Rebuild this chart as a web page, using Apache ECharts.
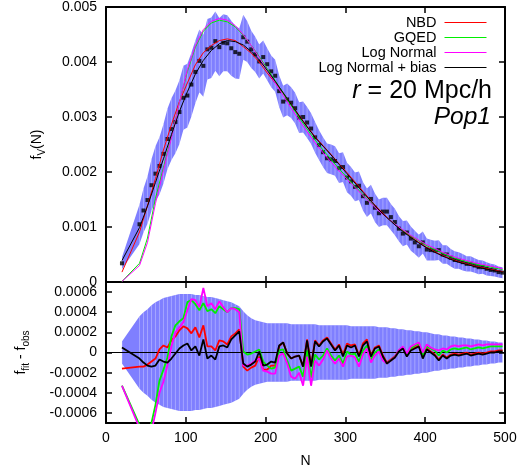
<!DOCTYPE html>
<html>
<head>
<meta charset="utf-8">
<script src="https://cdn.jsdelivr.net/npm/echarts@6/dist/echarts.min.js"></script>
<style>
  html, body { margin: 0; padding: 0; background: #fff; }
  #chart { width: 532px; height: 471px; }
</style>
</head>
<body>
<div id="chart"></div>
<script>
// measured points (N) and observed f_V(N)
var nObs = [20, 42, 47, 52, 57, 62, 67, 72, 77, 82, 87, 92, 97, 102, 107, 112, 117, 122, 127, 132, 137, 142, 147, 152, 157, 162, 167, 172, 177, 182, 187, 192, 197, 202, 207, 212, 217, 222, 227, 232, 237, 242, 247, 252, 257, 262, 267, 272, 277, 282, 287, 292, 297, 302, 307, 312, 317, 322, 327, 332, 337, 342, 347, 352, 357, 362, 367, 372, 377, 382, 387, 392, 397, 402, 407, 412, 417, 422, 427, 432, 437, 442, 447, 452, 457, 462, 467, 472, 477, 482, 487, 492, 497];
var fObs = [0.00034, 0.00105, 0.00130, 0.00149, 0.00176, 0.00197, 0.00211, 0.00233, 0.00260, 0.00278, 0.00291, 0.00309, 0.00335, 0.00339, 0.00359, 0.00382, 0.00402, 0.00393, 0.00423, 0.00426, 0.00438, 0.00427, 0.00435, 0.00434, 0.00425, 0.00418, 0.00415, 0.00445, 0.00437, 0.00423, 0.00414, 0.00401, 0.00409, 0.00396, 0.00383, 0.00375, 0.00347, 0.00328, 0.00332, 0.00326, 0.00316, 0.00299, 0.00300, 0.00290, 0.00279, 0.00263, 0.00249, 0.00236, 0.00225, 0.00223, 0.00220, 0.00207, 0.00209, 0.00190, 0.00183, 0.00173, 0.00175, 0.00156, 0.00144, 0.00151, 0.00135, 0.00125, 0.00128, 0.00128, 0.00118, 0.00109, 0.00097, 0.00088, 0.00090, 0.00079, 0.00072, 0.00065, 0.00072, 0.00059, 0.00058, 0.00057, 0.00058, 0.00050, 0.00050, 0.00044, 0.00040, 0.00039, 0.00036, 0.00033, 0.00033, 0.00030, 0.00027, 0.00027, 0.00024, 0.00022, 0.00021, 0.00018, 0.00017];
// error (half width of the blue band)
var sigma = [0.00011, 0.00036, 0.00040, 0.00043, 0.00047, 0.00050, 0.00052, 0.00054, 0.00055, 0.00056, 0.00057, 0.00058, 0.00058, 0.00058, 0.00058, 0.00057, 0.00057, 0.00056, 0.00055, 0.00055, 0.00054, 0.00053, 0.00052, 0.00051, 0.00050, 0.00048, 0.00046, 0.00041, 0.00037, 0.00034, 0.00032, 0.00031, 0.00030, 0.00029, 0.00029, 0.00029, 0.00029, 0.00029, 0.00029, 0.00028, 0.00028, 0.00028, 0.00028, 0.00028, 0.00028, 0.00028, 0.00027, 0.00027, 0.00027, 0.00027, 0.00027, 0.00027, 0.00027, 0.00027, 0.00026, 0.00026, 0.00026, 0.00026, 0.00026, 0.00026, 0.00026, 0.00025, 0.00025, 0.00025, 0.00024, 0.00024, 0.00023, 0.00023, 0.00022, 0.00022, 0.00021, 0.00021, 0.00020, 0.00020, 0.00019, 0.00018, 0.00018, 0.00017, 0.00017, 0.00016, 0.00016, 0.00015, 0.00015, 0.00014, 0.00014, 0.00013, 0.00013, 0.00012, 0.00012, 0.00011, 0.00011, 0.00010, 0.00010];

// residuals f_fit - f_obs
var resNBD = [-0.00016, -0.00014, -0.00014, -0.00012, -0.00009, -0.00006, 0.00003, 0.00007, 0.00005, 0.00012, 0.00016, 0.00022, 0.00026, 0.00024, 0.00019, 0.00025, 0.00015, 0.00027, 0.00006, 0.00006, 0.00002, 0.00012, 0.00011, 0.00008, 0.00016, 0.00019, 0.00023, -0.00014, -0.00018, -0.00015, -0.00013, -0.00004, -0.00017, -0.00017, -0.00013, -0.00013, 0.00006, 0.00010, -0.00001, -0.00006, -0.00004, -0.00003, -0.00014, 0.00013, -0.00013, 0.00012, 0.00007, 0.00012, 0.00015, 0.00009, 0.00003, 0.00008, -0.00002, 0.00009, 0.00007, 0.00008, -0.00003, 0.00009, 0.00013, -0.00003, 0.00005, 0.00007, -0.00003, -0.00010, -0.00007, -0.00004, 0.00002, 0.00005, -0.00003, 0.00003, 0.00005, 0.00007, -0.00005, 0.00004, 0.00001, -0.00002, -0.00007, -0.00002, -0.00005, -0.00002, -0.00001, -0.00002, -0.00001, 0.00000, -0.00002, -0.00001, 0.00000, -0.00001, 0.00000, 0.00001, 0.00001, 0.00002, 0.00002];
var resGQED = [-0.00033, -0.00072, -0.00078, -0.00078, -0.00070, -0.00052, -0.00028, -0.00017, -0.00005, 0.00016, 0.00027, 0.00031, 0.00034, 0.00050, 0.00052, 0.00048, 0.00042, 0.00049, 0.00041, 0.00043, 0.00039, 0.00046, 0.00043, 0.00040, 0.00044, 0.00044, 0.00043, 0.00001, -0.00002, -0.00001, 0.00001, 0.00003, -0.00009, -0.00013, -0.00016, -0.00015, 0.00002, 0.00003, -0.00008, -0.00018, -0.00016, -0.00014, -0.00024, 0.00002, -0.00025, -0.00002, -0.00007, -0.00003, 0.00004, -0.00003, -0.00008, -0.00003, -0.00011, 0.00001, -0.00002, -0.00001, -0.00009, 0.00002, 0.00007, -0.00007, 0.00000, 0.00003, -0.00007, -0.00011, -0.00008, -0.00005, 0.00001, 0.00005, -0.00003, 0.00004, 0.00007, 0.00009, -0.00003, 0.00006, 0.00004, 0.00002, -0.00003, 0.00002, 0.00000, 0.00003, 0.00004, 0.00003, 0.00004, 0.00005, 0.00003, 0.00004, 0.00005, 0.00004, 0.00005, 0.00006, 0.00006, 0.00006, 0.00006];
var resLN = [-0.00033, -0.00075, -0.00082, -0.00083, -0.00078, -0.00060, -0.00040, -0.00029, -0.00013, 0.00006, 0.00020, 0.00025, 0.00030, 0.00042, 0.00053, 0.00052, 0.00045, 0.00064, 0.00046, 0.00049, 0.00043, 0.00051, 0.00045, 0.00040, 0.00044, 0.00043, 0.00040, -0.00013, -0.00013, -0.00011, -0.00008, -0.00006, -0.00018, -0.00019, -0.00021, -0.00021, -0.00003, -0.00001, -0.00011, -0.00024, -0.00026, -0.00020, -0.00033, -0.00004, -0.00033, -0.00008, -0.00013, -0.00007, 0.00002, -0.00006, -0.00011, -0.00006, -0.00014, -0.00004, -0.00003, -0.00005, -0.00014, -0.00002, 0.00004, -0.00010, -0.00003, 0.00001, -0.00008, -0.00011, -0.00008, -0.00005, 0.00002, 0.00006, -0.00001, 0.00006, 0.00008, 0.00010, 0.00000, 0.00008, 0.00005, 0.00003, 0.00002, 0.00004, 0.00003, 0.00006, 0.00007, 0.00006, 0.00007, 0.00007, 0.00006, 0.00007, 0.00008, 0.00007, 0.00008, 0.00008, 0.00008, 0.00008, 0.00008];
var resLNB = [0.00005, -0.00006, -0.00010, -0.00013, -0.00014, -0.00013, -0.00007, -0.00009, -0.00010, -0.00006, -0.00001, 0.00004, 0.00007, 0.00009, 0.00002, 0.00006, -0.00003, 0.00013, -0.00006, -0.00003, -0.00007, 0.00006, 0.00007, 0.00005, 0.00013, 0.00017, 0.00021, -0.00011, -0.00014, -0.00012, -0.00009, 0.00001, -0.00013, -0.00012, -0.00009, -0.00010, 0.00007, 0.00010, -0.00001, -0.00006, -0.00004, -0.00003, -0.00014, 0.00012, -0.00014, 0.00011, 0.00006, 0.00011, 0.00014, 0.00008, 0.00002, 0.00007, -0.00004, 0.00007, 0.00005, 0.00007, -0.00004, 0.00007, 0.00011, -0.00004, 0.00004, 0.00006, -0.00004, -0.00011, -0.00008, -0.00005, 0.00001, 0.00004, -0.00004, 0.00002, 0.00004, 0.00006, -0.00006, 0.00003, 0.00000, -0.00003, -0.00008, -0.00003, -0.00006, -0.00003, -0.00002, -0.00003, -0.00002, -0.00001, -0.00003, -0.00002, -0.00001, -0.00002, -0.00001, 0.00000, 0.00000, 0.00001, 0.00001];

// fitted models, top panel
var nFit = [20, 42, 52, 62, 72, 82, 92, 102, 112, 122, 132, 142, 152, 162, 172, 182, 192, 202, 212, 222, 232, 242, 252, 262, 272, 282, 292, 302, 312, 322, 332, 342, 352, 362, 372, 382, 392, 402, 412, 422, 432, 442, 452, 462, 472, 482, 492, 497];
var fitNBD = [0.00018, 0.00091, 0.00139, 0.00188, 0.00240, 0.00286, 0.00328, 0.00362, 0.00395, 0.00417, 0.00430, 0.00439, 0.00442, 0.00439, 0.00428, 0.00416, 0.00400, 0.00380, 0.00362, 0.00344, 0.00323, 0.00303, 0.00283, 0.00264, 0.00248, 0.00232, 0.00215, 0.00199, 0.00182, 0.00165, 0.00148, 0.00132, 0.00118, 0.00105, 0.00093, 0.00082, 0.00072, 0.00063, 0.00055, 0.00048, 0.00042, 0.00037, 0.00033, 0.00029, 0.00026, 0.00023, 0.00020, 0.00019];
var fitGQED = [0.00001, 0.00034, 0.00080, 0.00152, 0.00208, 0.00264, 0.00326, 0.00383, 0.00427, 0.00456, 0.00471, 0.00476, 0.00473, 0.00464, 0.00449, 0.00430, 0.00410, 0.00388, 0.00366, 0.00343, 0.00321, 0.00299, 0.00278, 0.00258, 0.00240, 0.00223, 0.00206, 0.00190, 0.00174, 0.00159, 0.00144, 0.00130, 0.00117, 0.00105, 0.00094, 0.00084, 0.00075, 0.00066, 0.00059, 0.00052, 0.00046, 0.00041, 0.00037, 0.00033, 0.00030, 0.00027, 0.00024, 0.00023];
var fitLN = [0.00001, 0.00030, 0.00072, 0.00143, 0.00203, 0.00262, 0.00326, 0.00386, 0.00430, 0.00459, 0.00474, 0.00479, 0.00476, 0.00466, 0.00450, 0.00430, 0.00408, 0.00385, 0.00362, 0.00339, 0.00316, 0.00294, 0.00273, 0.00253, 0.00235, 0.00218, 0.00202, 0.00187, 0.00172, 0.00157, 0.00143, 0.00129, 0.00117, 0.00105, 0.00095, 0.00085, 0.00076, 0.00068, 0.00061, 0.00054, 0.00048, 0.00043, 0.00039, 0.00035, 0.00032, 0.00029, 0.00026, 0.00024];
var fitLNB = [0.00039, 0.00099, 0.00138, 0.00181, 0.00224, 0.00268, 0.00310, 0.00346, 0.00378, 0.00403, 0.00421, 0.00433, 0.00439, 0.00437, 0.00431, 0.00419, 0.00404, 0.00385, 0.00365, 0.00344, 0.00323, 0.00302, 0.00282, 0.00263, 0.00247, 0.00231, 0.00214, 0.00197, 0.00180, 0.00163, 0.00147, 0.00131, 0.00117, 0.00104, 0.00092, 0.00081, 0.00071, 0.00062, 0.00054, 0.00047, 0.00041, 0.00036, 0.00032, 0.00028, 0.00025, 0.00022, 0.00019, 0.00018];

var modelNames = ['NBD', 'GQED', 'Log Normal', 'Log Normal + bias'];
var modelColors = ['#ff0000', '#00ee00', '#ff00ff', '#000000'];

var font = "'Liberation Sans', Arial, Helvetica, sans-serif";
var bandColor = '#7f7fff';

function pairs(xs, ys) {
  return xs.map(function (x, i) { return [x, ys[i]]; });
}

// blue band: one polygon plus a faint light stripe at every point
function bandSeries(gridIdx, center) {
  return {
    type: 'custom',
    xAxisIndex: gridIdx * 2,
    yAxisIndex: gridIdx * 2,
    z: 1,
    silent: true,
    clip: true,
    data: nObs.map(function (n, i) { return [n, center[i] - sigma[i], center[i] + sigma[i]]; }),
    encode: { x: 0, y: [1, 2] },
    renderItem: function (params, api) {
      var i = params.dataIndex;
      var lo = api.coord([api.value(0), api.value(1)]);
      var hi = api.coord([api.value(0), api.value(2)]);
      var stripe = {
        type: 'line', z2: 2,
        shape: { x1: lo[0], y1: lo[1], x2: hi[0], y2: hi[1] },
        style: { stroke: 'rgba(255,255,255,0.3)', lineWidth: 1 }
      };
      if (i !== 0) return stripe;
      var pts = [];
      for (var a = 0; a < nObs.length; a++) pts.push(api.coord([nObs[a], center[a] + sigma[a]]));
      for (var b = nObs.length - 1; b >= 0; b--) pts.push(api.coord([nObs[b], center[b] - sigma[b]]));
      return {
        type: 'group',
        children: [
          { type: 'polygon', z2: 1, shape: { points: pts }, style: { fill: bandColor } },
          stripe
        ]
      };
    }
  };
}

var tick = { show: true, inside: true, length: 6, lineStyle: { color: '#000', width: 1.5 } };
var frame = { show: true, onZero: false, lineStyle: { color: '#000', width: 2 } };
var lbl = { color: '#000', fontSize: 14, fontFamily: font };
var nameRich = {
  a: { fontSize: 14, fontFamily: font, color: '#000', lineHeight: 20 },
  b: { fontSize: 10, fontFamily: font, color: '#000', lineHeight: 12, verticalAlign: 'bottom' }
};

function xAx(grid, pos, extra) {
  return Object.assign({
    type: 'value', gridIndex: grid, position: pos, min: 0, max: 500, interval: 100,
    axisLine: frame, axisTick: tick, axisLabel: { show: false }, splitLine: { show: false }, z: 3
  }, extra || {});
}
function yAx(grid, pos, extra) {
  return Object.assign({
    type: 'value', gridIndex: grid, position: pos,
    axisLine: frame, axisTick: tick, axisLabel: { show: false }, splitLine: { show: false }, z: 3
  }, extra || {});
}

var fitSets = [fitNBD, fitGQED, fitLN, fitLNB];
var resSets = [resNBD, resGQED, resLN, resLNB];

var series = [bandSeries(0, fObs)];
series.push({
  type: 'scatter', xAxisIndex: 0, yAxisIndex: 0, z: 2, silent: true,
  symbol: 'rect', symbolSize: 4, itemStyle: { color: '#000' },
  data: pairs(nObs, fObs)
});
fitSets.forEach(function (f, k) {
  series.push({
    type: 'line', name: modelNames[k], xAxisIndex: 0, yAxisIndex: 0, z: 3,
    symbol: 'none', silent: true, data: pairs(nFit, f),
    lineStyle: { color: modelColors[k], width: 1 }, itemStyle: { color: modelColors[k] }
  });
});
series.push(bandSeries(1, nObs.map(function () { return 0; })));
resSets.forEach(function (r, k) {
  var s = {
    type: 'line', name: modelNames[k], xAxisIndex: 2, yAxisIndex: 2, z: 3,
    symbol: 'none', silent: true, data: pairs(nObs, r),
    lineStyle: { color: modelColors[k], width: 1.8 }, itemStyle: { color: modelColors[k] }
  };
  if (k === 0) {
    s.markLine = {
      silent: true, symbol: 'none', z: 2, animation: false,
      label: { show: false },
      lineStyle: { color: '#000', width: 1, type: 'solid' },
      data: [{ yAxis: 0 }]
    };
  }
  series.push(s);
});

var chart = echarts.init(document.getElementById('chart'));
chart.setOption({
  animation: false,
  backgroundColor: '#fff',
  grid: [
    { left: 106, top: 7, width: 399, height: 275 },
    { left: 106, top: 282, width: 399, height: 141 }
  ],
  xAxis: [
    xAx(0, 'bottom'),
    xAx(0, 'top'),
    xAx(1, 'bottom', {
      axisLabel: Object.assign({ margin: 8 }, lbl),
      name: 'N', nameLocation: 'middle', nameGap: 31,
      nameTextStyle: { color: '#000', fontSize: 14, fontFamily: font }
    }),
    xAx(1, 'top')
  ],
  yAxis: [
    yAx(0, 'left', {
      min: 0, max: 0.005, interval: 0.001,
      axisLabel: Object.assign({ margin: 9 }, lbl),
      name: '{a|f}{b|V}{a|(N)}', nameLocation: 'middle', nameGap: 59,
      nameTextStyle: { rich: nameRich }
    }),
    yAx(0, 'right', { min: 0, max: 0.005, interval: 0.001 }),
    yAx(1, 'left', {
      min: -0.0007, max: 0.0007, splitNumber: 7,
      axisLabel: Object.assign({ margin: 9, showMinLabel: false, showMaxLabel: false }, lbl),
      name: '{a|f}{b|fit}{a| - f}{b|obs}', nameLocation: 'middle', nameGap: 75,
      nameTextStyle: { rich: nameRich }
    }),
    yAx(1, 'right', { min: -0.0007, max: 0.0007, splitNumber: 7 })
  ],
  legend: {
    orient: 'vertical', right: 45, top: 15, align: 'right', padding: 0,
    itemWidth: 42, itemHeight: 14, itemGap: 0, selectedMode: false,
    itemStyle: { opacity: 0 },
    lineStyle: { width: 1 },
    data: modelNames,
    textStyle: { color: '#000', fontSize: 14.5, lineHeight: 15, fontFamily: font, padding: [0, 3, 0, 0] }
  },
  graphic: [
    {
      type: 'text', z: 10,
      style: {
        x: 492, y: 91, align: 'right', verticalAlign: 'middle',
        text: '{i|r}{n| = 20 Mpc/h}', fill: '#000', font: '25px ' + font,
        rich: {
          i: { font: 'italic 25px ' + font, fill: '#000' },
          n: { font: '25px ' + font, fill: '#000' }
        }
      }
    },
    {
      type: 'text', z: 10,
      style: {
        x: 491, y: 117, align: 'right', verticalAlign: 'middle',
        text: 'Pop1', fill: '#000', font: 'italic 24.5px ' + font
      }
    }
  ],
  series: series
});
</script>
</body>
</html>
